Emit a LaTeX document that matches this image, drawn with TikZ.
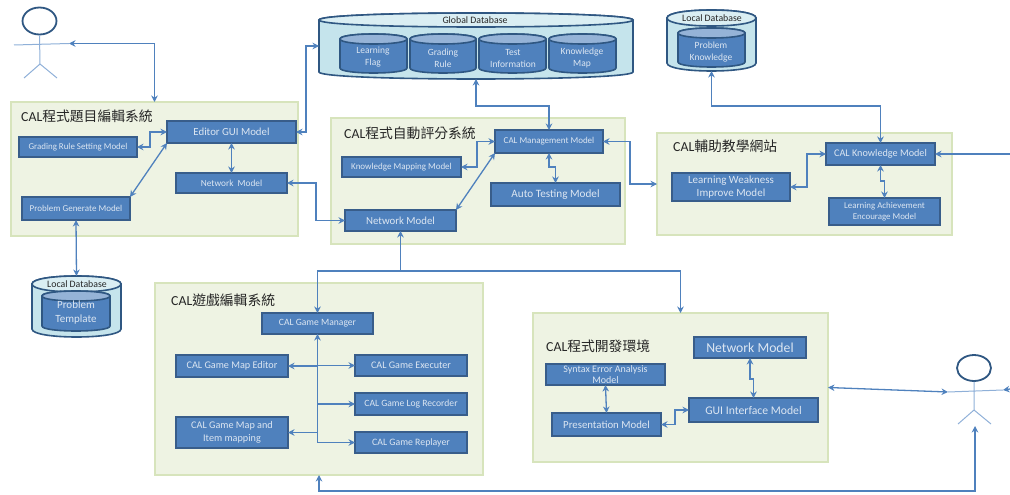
\documentclass[tikz,border=0pt]{standalone}
\usepackage{fontspec}
\setmainfont{Carlito}
\newfontfamily\cjk{Noto Sans CJK TC}
\usetikzlibrary{arrows.meta,shapes.geometric}
\definecolor{boxfill}{HTML}{4F81BD}
\definecolor{boxline}{HTML}{385D8A}
\definecolor{boxtext}{HTML}{DCE6F2}
\definecolor{grpfill}{HTML}{EEF3E3}
\definecolor{grpline}{HTML}{D7E4BC}
\definecolor{dbbody}{HTML}{C5E4EC}
\definecolor{dbtop}{HTML}{DAEEF3}
\definecolor{cyltop}{HTML}{95B3D7}
\definecolor{wire}{HTML}{4F81BD}
\definecolor{headline}{HTML}{2F5782}
\definecolor{limb}{HTML}{8FB0D8}
\tikzset{
  conn/.style={draw=wire,line width=1.3pt},
  both/.style={conn,{Stealth[length=6.5pt,width=6.5pt]}-{Stealth[length=6.5pt,width=6.5pt]}},
  tohead/.style={conn,-{Stealth[length=6.5pt,width=6.5pt]}},
  grp/.style={fill=grpfill,draw=grpline,line width=1.6pt,inner sep=0pt},
  modbox/.style={fill=boxfill,draw=boxline,line width=1.5pt,inner sep=0pt,text=boxtext,align=center},
  grptitle/.style={anchor=west,inner sep=0pt,font=\fontsize{13.8}{15}\selectfont,text=black!85},
  cyltext/.style={inner sep=0pt,text=boxtext,align=center,font=\fontsize{9.5}{12}\selectfont},
  dblabel/.style={inner sep=0pt,text=black!85,font=\fontsize{9.8}{11}\selectfont},
  headshape/.style={ellipse,draw=headline,line width=1.8pt,fill=white,inner sep=0pt},
  limbline/.style={draw=limb,line width=1pt}
}
% rectangle node given by its corners
\newcommand\rbox[7]{%
  \pgfmathsetmacro\rcx{(#3+#5)/2}\pgfmathsetmacro\rcy{(#4+#6)/2}%
  \pgfmathsetmacro\rw{#5-#3}\pgfmathsetmacro\rh{#6-#4}%
  \node[#1,minimum width=\rw pt,minimum height=\rh pt,outer sep=0pt] (#2) at (\rcx,\rcy) {#7};}
% cylinder with a named frame node
\newcommand\cyl[8]{%
  \pgfmathsetmacro\cT{#3+#6}\pgfmathsetmacro\cB{#5-#6}%
  \pgfmathsetmacro\cK{1.333*#6}%
  \pgfmathsetmacro\cTu{\cT-\cK}\pgfmathsetmacro\cTd{\cT+\cK}\pgfmathsetmacro\cBd{\cB+\cK}%
  \draw[draw=headline,line width=1.6pt,fill=#7] (#2,\cT) -- (#2,\cB) .. controls (#2,\cBd) and (#4,\cBd) .. (#4,\cB) -- (#4,\cT) .. controls (#4,\cTu) and (#2,\cTu) .. (#2,\cT) -- cycle;
  \draw[draw=headline,line width=1.6pt,fill=#8] (#2,\cT) .. controls (#2,\cTu) and (#4,\cTu) .. (#4,\cT) .. controls (#4,\cTd) and (#2,\cTd) .. (#2,\cT) -- cycle;
  \rbox{inner sep=0pt}{#1}{#2}{#3}{#4}{#5}{}}
\begin{document}
\begin{tikzpicture}[x=1pt,y=-1pt]
\useasboundingbox (0,0) rectangle (1010,495);
% groups
\rbox{grp}{gA}{11}{102}{298}{236}{}
\rbox{grp}{gB}{331}{118}{625}{244}{}
\rbox{grp}{gC}{657}{133}{952}{235}{}
\rbox{grp}{gD}{155}{283}{483}{475}{}
\rbox{grp}{gE}{533}{313}{828}{462}{}
\node[grptitle] (tA) at (21,116) {CAL{\cjk 程式題目編輯系統}};
\node[grptitle] (tB) at (344,133) {CAL{\cjk 程式自動評分系統}};
\node[grptitle] (tC) at (673,146) {CAL{\cjk 輔助教學網站}};
\node[grptitle] (tD) at (171,300) {CAL{\cjk 遊戲編輯系統}};
\node[grptitle] (tE) at (546,346) {CAL{\cjk 程式開發環境}};
% databases
\cyl{gdb}{319}{13}{633}{79}{7}{dbbody}{dbtop}
\node[dblabel] (gdbt) at (475,20) {Global Database};
\cyl{fl}{340}{34}{407}{73}{5}{boxfill}{cyltop}
\cyl{gr}{410}{34}{476}{73}{5}{boxfill}{cyltop}
\cyl{ti}{479}{34}{546}{73}{5}{boxfill}{cyltop}
\cyl{km}{549}{34}{616}{73}{5}{boxfill}{cyltop}
\node[cyltext] (flt) at (373,57) {Learning\\Flag};
\node[cyltext] (grt) at (443,58) {Grading\\Rule};
\node[cyltext] (tit) at (513,58.5) {Test\\Information};
\node[cyltext] (kmt) at (582,58) {Knowledge\\Map};
\cyl{ldbA}{667}{10}{756}{71}{8}{dbbody}{dbtop}
\node[dblabel] (ldbAt) at (712,18) {Local Database};
\cyl{ldbAi}{678}{28}{745}{67}{5}{boxfill}{cyltop}
\node[cyltext] (ldbAit) at (711,52) {Problem\\Knowledge};
\cyl{ldbB}{32}{276}{121}{337}{8}{dbbody}{dbtop}
\node[dblabel] (ldbBt) at (77,284) {Local Database};
\cyl{ldbBi}{42}{291}{110}{331}{5}{boxfill}{cyltop}
\node[cyltext,font=\fontsize{11}{14}\selectfont] (ldbBit) at (76,313) {Problem\\Template};
% actors
\node[headshape,minimum width=34pt,minimum height=27pt] (headA) at (39.5,21) {};
\coordinate (handAL) at (14,45);
\coordinate (handAR) at (69,43.5);
\coordinate (hipA) at (40,64);
\coordinate (footAL) at (24,78);
\coordinate (footAR) at (57,78);
\draw[limbline] (headA.south) -- (hipA) (handAL) -- (handAR) (footAL) -- (hipA) -- (footAR);
\node[headshape,minimum width=34pt,minimum height=26pt] (headB) at (974,368) {};
\coordinate (handBL) at (948,392);
\coordinate (handBR) at (1003,390);
\coordinate (hipB) at (974,410);
\coordinate (footBL) at (958,424);
\coordinate (footBR) at (991,424);
\coordinate (feetB) at (975,426);
\draw[limbline] (headB.south) -- (hipB) (handBL) -- (handBR) (footBL) -- (hipB) -- (footBR);
% modules
\rbox{modbox,font=\fontsize{10.8}{12}\selectfont}{editor}{167}{121}{296}{143}{Editor GUI Model}
\rbox{modbox,font=\fontsize{8.9}{10}\selectfont}{grading}{19}{137}{137}{157}{Grading Rule Setting Model}
\rbox{modbox,font=\fontsize{9.3}{10}\selectfont}{netA}{176}{173}{287}{193}{Network\ \ Model}
\rbox{modbox,font=\fontsize{9}{10}\selectfont}{pg}{22}{197}{130}{220}{Problem Generate Model}
\rbox{modbox,font=\fontsize{9}{10}\selectfont}{mgmt}{495}{130}{603}{153}{CAL Management Model}
\rbox{modbox,font=\fontsize{9}{10}\selectfont}{kmm}{342}{157}{461}{177}{Knowledge Mapping Model}
\rbox{modbox,font=\fontsize{11.2}{12}\selectfont}{auto}{491}{183}{620}{206}{Auto Testing Model}
\rbox{modbox,font=\fontsize{10.8}{12}\selectfont}{netB}{345}{210}{456}{231}{Network Model}
\rbox{modbox,font=\fontsize{10.2}{11}\selectfont}{know}{826}{143}{935}{165}{CAL Knowledge Model}
\rbox{modbox,font=\fontsize{11}{12.5}\selectfont}{lw}{672}{173}{790}{201}{Learning Weakness\\Improve Model}
\rbox{modbox,font=\fontsize{8.9}{11}\selectfont}{la}{829}{198}{940}{225}{Learning Achievement\\Encourage Model}
\rbox{modbox,font=\fontsize{9.6}{10}\selectfont}{gm}{262}{313}{373}{334}{CAL Game Manager}
\rbox{modbox,font=\fontsize{10.2}{11}\selectfont}{ed}{176}{355}{288}{377}{CAL Game Map Editor}
\rbox{modbox,font=\fontsize{10.1}{11}\selectfont}{ex}{355}{355}{467}{376}{CAL Game Executer}
\rbox{modbox,font=\fontsize{9.6}{10}\selectfont}{lg}{355}{393}{467}{415}{CAL Game Log Recorder}
\rbox{modbox,font=\fontsize{9.8}{10}\selectfont}{rp}{355}{432}{467}{453}{CAL Game Replayer}
\rbox{modbox,font=\fontsize{10.2}{12.5}\selectfont}{mp}{176}{417}{288}{448}{CAL Game Map and\\Item mapping}
\rbox{modbox,font=\fontsize{13.7}{14}\selectfont}{netC}{694}{337}{806}{358}{Network Model}
\rbox{modbox,font=\fontsize{10}{11.5}\selectfont}{syn}{546}{364}{665}{385}{Syntax Error Analysis\\Model}
\rbox{modbox,font=\fontsize{11.7}{12}\selectfont}{gui}{689}{398}{818}{422}{GUI Interface Model}
\rbox{modbox,font=\fontsize{10.8}{12}\selectfont}{pres}{552}{413}{661}{436}{Presentation Model}
% free ends and junctions
\coordinate (edgeK) at (1010,154);
\coordinate (edgeB) at (1010,389);
\coordinate (busJ) at (400.5,271);
% connectors
\draw[both] (handAR) -| (gA.north);
\draw[both] (editor.east) -- ++(10,0) |- (gdb.west);
\draw[both] (grading.east) -- ++(13,0) |- (editor.west);
\draw[both] (editor.south) -- (netA.north);
\draw[both] (editor.south west) -- (pg.north east);
\draw[both] (pg.south) -- (ldbB.north);
\draw[both] (netA.east) -- ++(29,0) |- (netB.west);
\draw[both] (mgmt.north) -- ++(0,-24) -| (gdb.south);
\draw[both] (kmm.east) -- ++(16,0) |- (mgmt.west);
\draw[both] (mgmt.south west) -- (netB.north east);
\draw[both] (mgmt.south) -- ++(0,14) -| (auto.north);
\draw[both] (mgmt.east) -- ++(27,0) |- (gC.west);
\draw[both] (know.north) -- ++(0,-37) -| (ldbA.south);
\draw[both] (lw.east) -- ++(17,0) |- (know.west);
\draw[both] (know.south) -- ++(0,16) -| (la.north);
\draw[tohead] (edgeK) -- (know.east);
\draw[tohead] (busJ) -- (netB.south);
\draw[tohead] (busJ) -| (gm.north);
\draw[tohead] (busJ) -| (gE.north);
\draw[both] (gm.south) |- (ed.east);
\draw[tohead] (gm.south) |- (ex.west);
\draw[tohead] (gm.south) |- (lg.west);
\draw[tohead] (gm.south) |- (rp.west);
\draw[tohead] (gm.south) |- (mp.east);
\draw[both] (netC.south) -- ++(0,21) -| (gui.north);
\draw[both] (syn.south) -- (pres.north);
\draw[both] (pres.east) -- ++(14,0) |- (gui.west);
\draw[both] (gE.east) -- (handBL);
\draw[tohead] (edgeB) -- (handBR);
\draw[both] (feetB) -- ++(0,65) -| (gD.south);
\end{tikzpicture}
\end{document}
